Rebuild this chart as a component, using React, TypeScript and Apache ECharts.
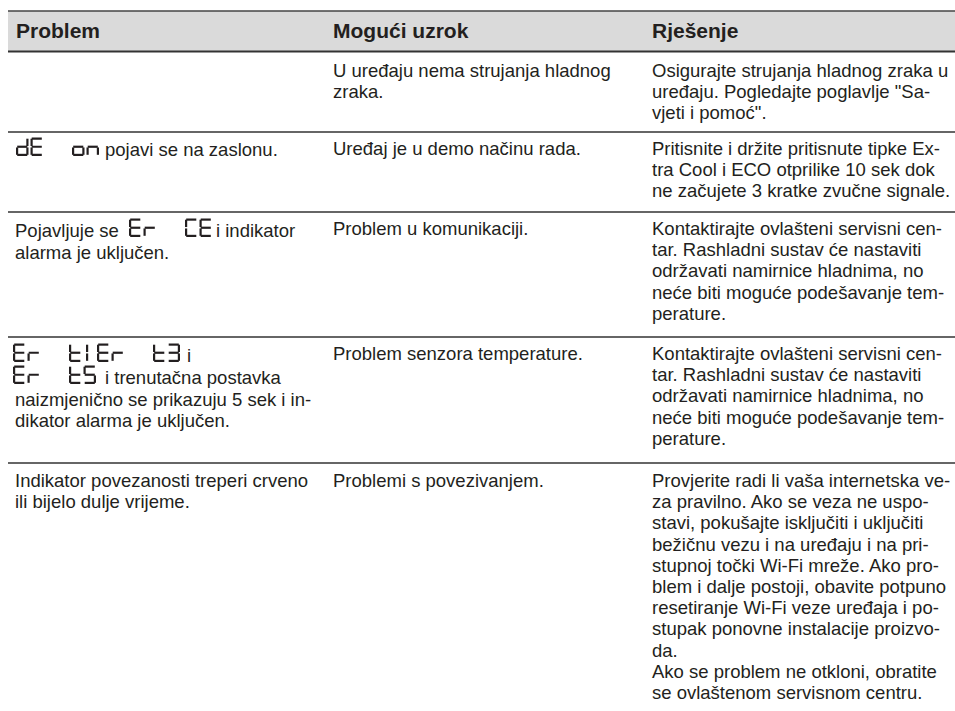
import React, { useEffect, useRef } from "react";
import * as echarts from "echarts";

const headers = ["Problem", "Mogući uzrok", "Rješenje"];

const causes: string[][] = [
  ["U uređaju nema strujanja hladnog", "zraka."],
  ["Uređaj je u demo načinu rada."],
  ["Problem u komunikaciji."],
  ["Problem senzora temperature."],
  ["Problemi s povezivanjem."],
];

const solutions: string[][] = [
  ["Osigurajte strujanja hladnog zraka u", "uređaju. Pogledajte poglavlje \"Sa-", "vjeti i pomoć\"."],
  ["Pritisnite i držite pritisnute tipke Ex-", "tra Cool i ECO otprilike 10 sek dok", "ne začujete 3 kratke zvučne signale."],
  ["Kontaktirajte ovlašteni servisni cen-", "tar. Rashladni sustav će nastaviti", "održavati namirnice hladnima, no", "neće biti moguće podešavanje tem-", "perature."],
  ["Kontaktirajte ovlašteni servisni cen-", "tar. Rashladni sustav će nastaviti", "održavati namirnice hladnima, no", "neće biti moguće podešavanje tem-", "perature."],
  ["Provjerite radi li vaša internetska ve-", "za pravilno. Ako se veza ne uspo-", "stavi, pokušajte isključiti i uključiti", "bežičnu vezu i na uređaju i na pri-", "stupnoj točki Wi-Fi mreže. Ako pro-", "blem i dalje postoji, obavite potpuno", "resetiranje Wi-Fi veze uređaja i po-", "stupak ponovne instalacije proizvo-", "da.", "Ako se problem ne otkloni, obratite", "se ovlaštenom servisnom centru."],
];

// problem column: each line is a list of tokens; "#xxxx" = four-digit display code
const problems: string[][][] = [
  [],
  [["#dEon", "pojavi se na zaslonu."]],
  [["Pojavljuje se", "#ErCE", "i indikator"], ["alarma je uključen."]],
  [["#Ert1", "#Ert3", "i"], ["#Ert5", "i trenutačna postavka"], ["naizmjenično se prikazuju 5 sek i in-"], ["dikator alarma je uključen."]],
  [["Indikator povezanosti treperi crveno"], ["ili bijelo dulje vrijeme."]],
];

const SEG: Record<string, string> = {
  d: "bcdeg", E: "adefg", o: "cdeg", n: "ceg", r: "eg", C: "adef",
  t: "defg", "1": "ef", "3": "abcdg", "5": "acdfg",
};

const BODY_FONT = '18.5px "Liberation Sans", Arial, sans-serif';
const HEAD_FONT = 'bold 21px "Liberation Sans", Arial, sans-serif';
const INK = "#231f20";

function digit(ch: string, x0: number, yb: number): any[] {
  const w = 12.5, h = 18.5, t = 2.2;
  const x = ch === "1" ? x0 + 2.5 : x0;
  const y0 = yb - h;
  const hh = h / 2 - 1.9;
  const r: Record<string, number[]> = {
    a: [x + 1.2, y0, w - 2.4, t],
    b: [x + w - t, y0 + 1.2, t, hh],
    c: [x + w - t, y0 + h / 2 + 0.7, t, hh],
    d: [x + 1.2, y0 + h - t, w - 2.4, t],
    e: [x, y0 + h / 2 + 0.7, t, hh],
    f: [x, y0 + 1.2, t, hh],
    g: [x + 1.2, y0 + h / 2 - t / 2, w - 2.4, t],
  };
  return (SEG[ch] || "").split("").map((s) => ({
    type: "rect",
    shape: { x: r[s][0], y: r[s][1], width: r[s][2], height: r[s][3] },
    style: { fill: INK },
    silent: true,
  }));
}

function code(str: string, x: number, yb: number): any[] {
  const offs = [0, 14.5, 56, 70.5];
  const out: any[] = [];
  str.split("").forEach((ch, i) => out.push(...digit(ch, x + offs[i], yb)));
  return out;
}

function text(s: string, x: number, baseline: number, font = BODY_FONT, size = 18.5): any {
  return {
    type: "text",
    x,
    y: baseline - size * 0.3465,
    silent: true,
    style: { text: s, font, fill: INK, verticalAlign: "middle", align: "left" },
  };
}

function hline(y: number, w: number, color: string): any {
  return {
    type: "line",
    shape: { x1: 8, y1: y, x2: 955, y2: y },
    style: { stroke: color, lineWidth: w },
    silent: true,
  };
}

export default function App() {
  const ref = useRef<HTMLDivElement>(null);
  useEffect(() => {
    if (!ref.current) return;
    const chart = echarts.init(ref.current, undefined, { renderer: "svg" });
    const colX = [16, 333, 652];
    const L = 21.2;
    const rowTops = [52, 132, 212, 337, 463];
    const firstBase = [77, 155, 235, 360, 487];
    // x positions of tokens in the problem column, and baselines of its lines
    const probLayout: { xs: number[][]; bases: number[] }[] = [
      { xs: [], bases: [] },
      { xs: [[16, 105]], bases: [156] },
      { xs: [[15, 129, 216], [15]], bases: [237, 258.5] },
      { xs: [[13, 97, 187], [13, 105], [15], [15]], bases: [362, 384, 405.5, 426.7] },
      { xs: [[15], [15]], bases: [487, 487 + L] },
    ];

    const els: any[] = [];
    els.push({ type: "rect", shape: { x: 8, y: 11, width: 947, height: 40 }, style: { fill: "#dadada" }, silent: true });
    els.push(hline(11, 1.4, "#444444"));
    els.push(hline(51.5, 2, "#333333"));
    rowTops.slice(1).forEach((y) => els.push(hline(y, 1.5, "#333333")));

    headers.forEach((h, i) => els.push(text(h, colX[i], 37.5, HEAD_FONT, 21)));

    causes.forEach((lines, r) => {
      lines.forEach((s, k) => els.push(text(s, 333, firstBase[r] + k * L)));
    });
    solutions.forEach((lines, r) => {
      lines.forEach((s, k) => els.push(text(s, 652, firstBase[r] + k * L)));
    });
    problems.forEach((lines, r) => {
      const lay = probLayout[r];
      lines.forEach((tokens, k) => {
        const base = lay.bases[k];
        tokens.forEach((tok, j) => {
          const x = lay.xs[k][j];
          if (tok.startsWith("#")) els.push(...code(tok.slice(1), x, base));
          else els.push(text(tok, x, base));
        });
      });
    });

    chart.setOption({
      animation: false,
      backgroundColor: "#ffffff",
      graphic: { elements: els },
    });
    return () => chart.dispose();
  }, []);
  return (
    <div
      ref={ref}
      style={{ position: "fixed", left: 0, top: 0, width: 955, height: 711, background: "#fff" }}
    />
  );
}
